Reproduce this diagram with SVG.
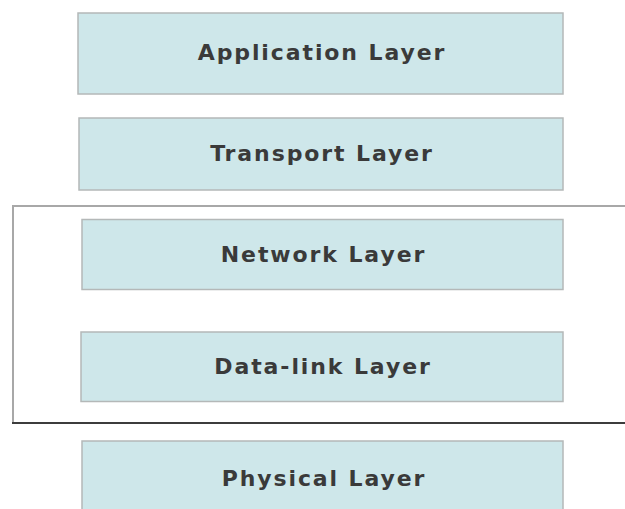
<svg xmlns="http://www.w3.org/2000/svg" width="625" height="509" viewBox="0 0 625 509">
  <style>
    .layer rect { fill: #cee7ea; stroke: #b4b8b8; stroke-width: 1.5; }
    .layer text { font-family: "DejaVu Sans", sans-serif; font-weight: bold; font-size: 22px; fill: #3a3a3a; text-anchor: middle; letter-spacing: 1.9px; }
    .frame-light { stroke: #a8a8a8; stroke-width: 2; fill: none; }
    .frame-dark { stroke: #3c3c3c; stroke-width: 2; fill: none; }
  </style>
  <rect width="625" height="509" fill="#ffffff"/>

  <!-- bracket grouping the network and data-link layers -->
  <g id="bracket">
    <line class="frame-light" x1="13" y1="206" x2="625" y2="206"/>
    <line class="frame-light" x1="13" y1="205" x2="13" y2="423"/>
    <line class="frame-dark" x1="12" y1="423" x2="625" y2="423"/>
  </g>

  <g id="application" class="layer">
    <rect x="78" y="13" width="485" height="81"/>
    <text x="322" y="60">Application Layer</text>
  </g>
  <g id="transport" class="layer">
    <rect x="79" y="118" width="484" height="72"/>
    <text x="322" y="161">Transport Layer</text>
  </g>
  <g id="network" class="layer">
    <rect x="82" y="219.5" width="481" height="70"/>
    <text x="323.5" y="261.5">Network Layer</text>
  </g>
  <g id="datalink" class="layer">
    <rect x="81" y="332" width="482" height="69.5"/>
    <text x="323" y="374">Data-link Layer</text>
  </g>
  <g id="physical" class="layer">
    <rect x="82" y="441" width="481" height="80"/>
    <text x="324" y="485.5">Physical Layer</text>
  </g>

  <g id="connectors"></g>
</svg>
